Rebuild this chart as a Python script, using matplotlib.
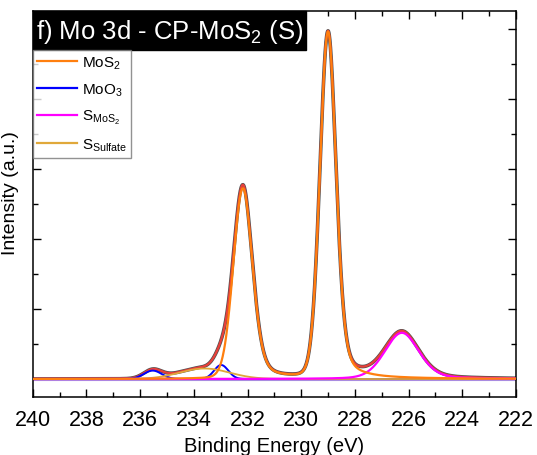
import numpy as np
import matplotlib
matplotlib.use("Agg")
import matplotlib.pyplot as plt
from matplotlib.patches import Rectangle
from matplotlib.lines import Line2D
from matplotlib.ticker import MultipleLocator, NullFormatter

plt.rcParams['font.family'] = ['Liberation Sans', 'DejaVu Sans']
plt.rcParams['mathtext.default'] = 'regular'

# ---- data (fit components) ----
legend_labels = ["MoS$_2$", "MoO$_3$", "S$_{MoS_2}$", "S$_{Sulfate}$"]
colors = ["#FF7F0E", "#0000FF", "#FF00FF", "#E0A83A"]

mos2_centers = [229.0, 232.17]
mos2_heights = [4.95, 2.72]
mos2_fwhm = [0.71, 0.84]

moo3_centers = [232.98, 235.53]
moo3_heights = [0.20, 0.12]
moo3_fwhm = [0.62, 0.78]

smos2_centers = [226.25]
smos2_heights = [0.66]
smos2_fwhm = [1.5]

sulf_centers = [233.6]
sulf_heights = [0.15]
sulf_fwhm = [2.2]

# Lorentzian fraction: low-BE side / high-BE side
lfrac_low = [0.30, 0.0, 0.30, 0.0]
lfrac_high = [0.08, 0.0, 0.20, 0.0]

x_ticks = [240, 238, 236, 234, 232, 230, 228, 226, 224, 222]


def peaks(x, centers, heights, fwhms, m_low, m_high):
    y = np.zeros_like(x)
    for c, h, w in zip(centers, heights, fwhms):
        u = ((x - c) / (w / 2.0)) ** 2
        m = np.where(x < c, m_low, m_high)
        y += h * ((1 - m) * np.exp(-np.log(2) * u) + m / (1 + u))
    return y


x = np.linspace(240, 222, 3601)
comp = [
    peaks(x, mos2_centers, mos2_heights, mos2_fwhm, lfrac_low[0], lfrac_high[0]),
    peaks(x, moo3_centers, moo3_heights, moo3_fwhm, lfrac_low[1], lfrac_high[1]),
    peaks(x, smos2_centers, smos2_heights, smos2_fwhm, lfrac_low[2], lfrac_high[2]),
    peaks(x, sulf_centers, sulf_heights, sulf_fwhm, lfrac_low[3], lfrac_high[3]),
]
envelope = np.sum(comp, axis=0)

fig = plt.figure(figsize=(5.37, 4.56), dpi=100)
ax = fig.add_axes([32.7 / 537, 1 - 398 / 456, (516 - 32.7) / 537, (398 - 12) / 456])

# measured spectrum (dark grey, under the envelope)
ax.plot(x, envelope, color="#505050", lw=2.6, zorder=1)
ax.plot(x, envelope, color="#E8403A", lw=1.6, zorder=2)
ax.axhline(-0.012, color="#A98BE0", lw=1.5, zorder=2.5)
ax.plot(x, comp[1], color=colors[1], lw=1.4, zorder=3.0)
ax.plot(x, comp[3], color=colors[3], lw=1.3, zorder=3.2)
ax.plot(x, comp[2], color=colors[2], lw=1.6, zorder=3.4)
ax.plot(x, comp[0], color=colors[0], lw=1.6, zorder=3.6)

ax.set_xlim(240, 222)
ax.set_ylim(-0.257, 5.257)
ax.set_xticks(x_ticks)
ax.set_xticklabels([str(t) for t in x_ticks])
ax.xaxis.set_minor_locator(MultipleLocator(1))
ax.yaxis.set_major_locator(MultipleLocator(1))
ax.yaxis.set_minor_locator(MultipleLocator(0.5))
ax.yaxis.set_major_formatter(NullFormatter())
ax.tick_params(which='both', direction='in', top=True, right=True, width=1)
ax.tick_params(which='major', length=6, labelsize=15.5, pad=9)
ax.tick_params(which='minor', length=3.5)
for s in ax.spines.values():
    s.set_linewidth(1.1)

ax.set_xlabel("Binding Energy (eV)", fontsize=14.5, labelpad=4)
ax.set_ylabel("Intensity (a.u.)", fontsize=14)
ax.yaxis.set_label_coords(-0.029, (398 - 193) / 386)

# title box
tw = (306 - 32.7) / (516 - 32.7)
tb = (398 - 51) / (398 - 12)
ax.add_patch(Rectangle((0, tb), tw, 1 - tb, transform=ax.transAxes,
                       facecolor='black', edgecolor='black', zorder=10, clip_on=False))
ax.text(tw / 2, (1 + tb) / 2, "f) Mo 3d - CP-MoS$_2$ (S)", transform=ax.transAxes,
        ha='center', va='center', color='white', fontsize=18.5, zorder=11)

handles = [Line2D([], [], color=c, lw=1.6) for c in colors]
leg = ax.legend(handles, legend_labels, loc='upper left', bbox_to_anchor=(0, tb),
                bbox_transform=ax.transAxes, borderaxespad=0, frameon=True,
                fancybox=False, edgecolor='#777777', fontsize=11,
                handlelength=2.6, handletextpad=0.3, labelspacing=0.68,
                borderpad=0.3)
leg.get_frame().set_linewidth(1.0)
leg.set_zorder(12)

fig.savefig("out.png", dpi=100)
